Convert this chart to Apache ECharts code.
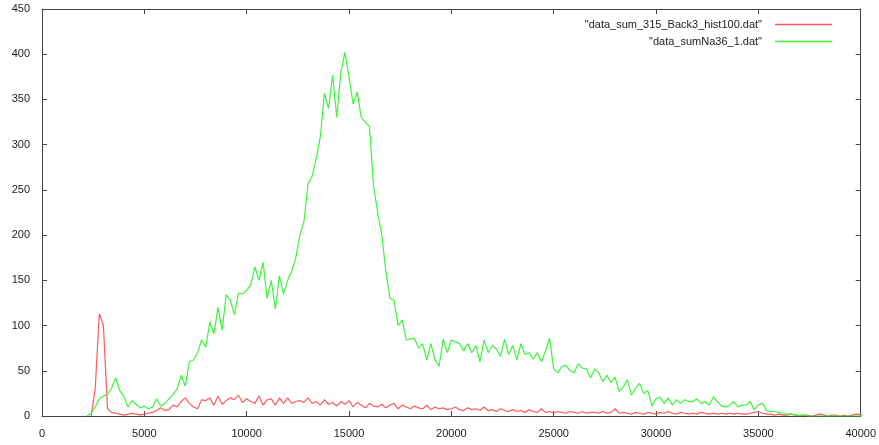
<!DOCTYPE html>
<html>
<head>
<meta charset="utf-8">
<script src="https://cdn.jsdelivr.net/npm/echarts@6/dist/echarts.min.js"></script>
<style>html,body{margin:0;padding:0;background:#fff;}#c{width:879px;height:445px;}</style>
</head>
<body>
<div id="c"></div>
<script>
// Histogram bins (x in channel units), 200 per bin
var binWidth = 200;
var redStart = 2400;
var greenStart = 2200;
var redName = '"data_sum_315_Back3_hist100.dat"';
var greenName = '"data_sumNa36_1.dat"';
var xTicks = [0, 5000, 10000, 15000, 20000, 25000, 30000, 35000, 40000];
var yTicks = [0, 50, 100, 150, 200, 250, 300, 350, 400, 450];

var redValues = [
  0, 30, 113, 100, 8, 4, 3, 2, 1, 2, 3, 2, 1, 2, 3, 4, 6, 9, 6, 7,
  12, 10, 16, 20, 14, 10, 8, 18, 17, 20, 12, 22, 13, 17, 20, 18, 23, 15, 19, 16,
  14, 22, 12, 18, 19, 12, 20, 14, 20, 14, 16, 17, 15, 20, 14, 16, 12, 18, 13, 15,
  11, 16, 13, 17, 10, 15, 12, 9, 14, 11, 10, 13, 9, 12, 14, 8, 12, 10, 8, 11,
  9, 8, 12, 7, 10, 8, 9, 7, 8, 10, 7, 6, 9, 7, 8, 6, 10, 6, 7, 5,
  8, 6, 5, 7, 5, 6, 4, 7, 5, 4, 8, 4, 5, 3, 5, 4, 3, 5, 4, 3,
  5, 3, 4, 4, 3, 5, 3, 4, 8, 3, 4, 3, 2, 4, 3, 2, 4, 3, 2, 4,
  3, 5, 3, 2, 4, 3, 2, 3, 2, 4, 3, 2, 3, 2, 3, 2, 3, 2, 3, 2,
  2, 3, 4, 5, 3, 2, 2, 1, 2, 1, 1, 2, 1, 0, 1, 1, 0, 1, 2, 1,
  0, 1, 1, 0, 1, 0, 1, 2, 1, 0, 1
];

var greenValues = [
  0, 3, 10, 19, 22, 24, 31, 42, 28, 22, 10, 17, 13, 9, 11, 8, 10, 19, 11, 14,
  19, 24, 30, 45, 33, 60, 62, 70, 84, 76, 104, 91, 120, 95, 134, 128, 112, 136, 135, 139,
  145, 165, 150, 170, 130, 150, 118, 155, 135, 150, 160, 175, 200, 215, 257, 265, 285, 309, 357, 340,
  377, 330, 380, 402, 375, 345, 358, 330, 325, 320, 254, 225, 200, 160, 130, 128, 100, 106, 84, 85,
  86, 75, 80, 62, 80, 62, 55, 85, 70, 84, 82, 80, 72, 80, 70, 78, 60, 84, 70, 78,
  74, 66, 85, 68, 78, 62, 80, 68, 70, 63, 70, 60, 72, 86, 52, 48, 55, 56, 50, 48,
  58, 53, 52, 42, 52, 48, 38, 45, 37, 43, 27, 32, 40, 23, 31, 36, 25, 28, 11, 19,
  21, 14, 20, 12, 18, 14, 18, 16, 16, 19, 14, 16, 12, 21, 16, 11, 10, 12, 16, 10,
  12, 12, 16, 7, 12, 14, 6, 5, 5, 4, 3, 2, 2, 1, 1, 1, 0, 0, 0, 0,
  0, 0, 0, 0, 0, 0, 0, 0, 0, 0, 0, 0, 0, 0, 0, 0, 0, 0, 0
];

var redColor = '#ff5a5a';
var greenColor = '#3cf53c';

function toPairs(start, vals) {
  return vals.map(function (v, i) { return [start + i * binWidth, v]; });
}

var axisColor = '#444';
var font = 'Liberation Sans, Arial, sans-serif';

function legendFor(name, color, top) {
  return {
    data: [{name: name, icon: 'rect', itemStyle: {color: color, borderWidth: 0}}],
    orient: 'vertical', right: 42, top: top, align: 'right',
    itemWidth: 57, itemHeight: 1.5,
    textStyle: {fontFamily: font, fontSize: 11, color: '#222', padding: [0, 8, 0, 0]},
    selectedMode: false
  };
}

var chart = echarts.init(document.getElementById('c'), null, {renderer: 'canvas'});
chart.setOption({
  animation: false,
  backgroundColor: '#fff',
  grid: {left: 42, right: 17, top: 9, bottom: 29, containLabel: false},
  legend: [legendFor(redName, redColor, 14), legendFor(greenName, greenColor, 31)],
  xAxis: [
    {
      type: 'value', min: 0, max: 40000, interval: 5000, position: 'bottom',
      axisLine: {show: true, onZero: false, lineStyle: {color: axisColor, width: 1}},
      axisTick: {show: true, inside: true, length: 5, lineStyle: {color: axisColor}},
      axisLabel: {margin: 12, fontFamily: font, fontSize: 11, color: '#222',
        formatter: function (v) { return xTicks.indexOf(v) >= 0 ? String(v) : ''; }},
      splitLine: {show: false}
    },
    {
      type: 'value', min: 0, max: 40000, interval: 5000, position: 'top',
      axisLine: {show: true, onZero: false, lineStyle: {color: axisColor, width: 1}},
      axisTick: {show: true, inside: true, length: 5, lineStyle: {color: axisColor}},
      axisLabel: {show: false}, splitLine: {show: false}
    }
  ],
  yAxis: [
    {
      type: 'value', min: 0, max: 450, interval: 50, position: 'left',
      axisLine: {show: true, onZero: false, lineStyle: {color: axisColor, width: 1}},
      axisTick: {show: true, inside: true, length: 5, lineStyle: {color: axisColor}},
      axisLabel: {margin: 12, fontFamily: font, fontSize: 11, color: '#222',
        formatter: function (v) { return yTicks.indexOf(v) >= 0 ? String(v) : ''; }},
      splitLine: {show: false}
    },
    {
      type: 'value', min: 0, max: 450, interval: 50, position: 'right',
      axisLine: {show: true, onZero: false, lineStyle: {color: axisColor, width: 1}},
      axisTick: {show: true, inside: true, length: 5, lineStyle: {color: axisColor}},
      axisLabel: {show: false}, splitLine: {show: false}
    }
  ],
  series: [
    {
      name: redName, type: 'line', xAxisIndex: 0, yAxisIndex: 0,
      showSymbol: false, symbol: 'none', smooth: false,
      color: redColor, lineStyle: {color: redColor, width: 1.2},
      data: toPairs(redStart, redValues)
    },
    {
      name: greenName, type: 'line', xAxisIndex: 0, yAxisIndex: 0,
      showSymbol: false, symbol: 'none', smooth: false,
      color: greenColor, lineStyle: {color: greenColor, width: 1.2},
      data: toPairs(greenStart, greenValues)
    }
  ]
});
</script>
</body>
</html>
